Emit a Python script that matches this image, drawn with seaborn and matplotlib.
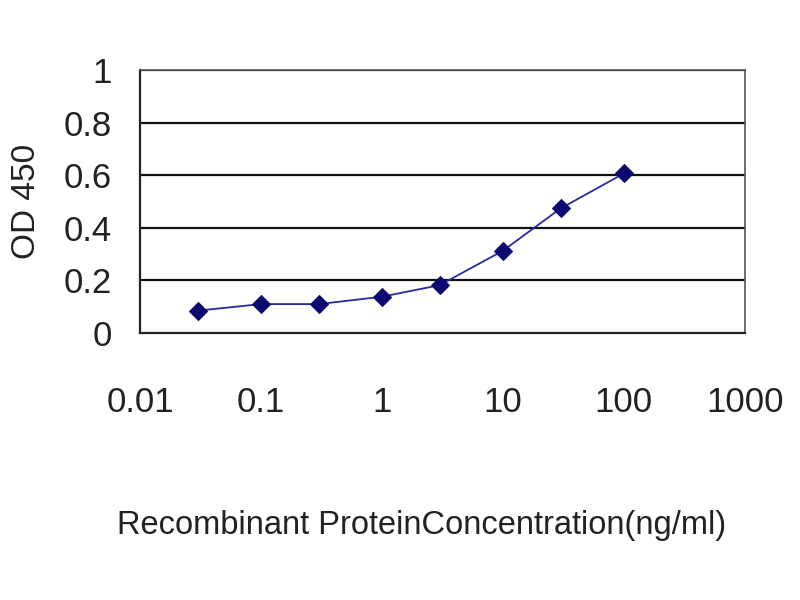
import pandas as pd
import matplotlib.pyplot as plt
import seaborn as sns

# ELISA standard curve values
concentration = [0.03, 0.1, 0.3, 1, 3, 10, 30, 100]
od450 = [0.085, 0.11, 0.11, 0.138, 0.182, 0.313, 0.474, 0.607]
x_ticks = [0.01, 0.1, 1, 10, 100, 1000]
x_tick_labels = ['0.01', '0.1', '1', '10', '100', '1000']
y_ticks = [0, 0.2, 0.4, 0.6, 0.8, 1]
y_tick_labels = ['0', '0.2', '0.4', '0.6', '0.8', '1']

df = pd.DataFrame({'Concentration': concentration, 'OD': od450})

sns.set_style("white")
plt.rcParams['font.family'] = ['Liberation Sans', 'DejaVu Sans']

fig = plt.figure(figsize=(8, 6), dpi=100)
ax = fig.add_axes([0.175, 0.445, 0.756, 0.438])

# horizontal gridlines
for y in y_ticks[1:]:
    ax.axhline(y, color='#111111', linewidth=1.6, zorder=1)

sns.lineplot(data=df, x='Concentration', y='OD', ax=ax,
             color='#2a2aa0', linewidth=1.3, marker='D', markersize=9,
             markerfacecolor='#0a0a70', markeredgecolor='#0a0a70', zorder=3)

ax.set_xscale('log')
ax.set_xlim(0.01, 1000)
ax.set_ylim(0, 1)
ax.set_xticks(x_ticks)
ax.set_xticklabels(x_tick_labels)
ax.minorticks_off()
ax.set_yticks(y_ticks)
ax.set_yticklabels(y_tick_labels)

ax.tick_params(axis='x', direction='in', length=9, width=1.2, pad=38,
               labelsize=25, colors='black', labelcolor='#222222')
ax.tick_params(axis='y', direction='out', length=0, pad=20,
               labelsize=25, labelcolor='#222222')

for side in ['left', 'bottom']:
    ax.spines[side].set_color('#222222')
    ax.spines[side].set_linewidth(1.6)
for side in ['top', 'right']:
    ax.spines[side].set_color('#555555')
    ax.spines[side].set_linewidth(1.2)

ax.set_xlabel('Recombinant ProteinConcentration(ng/ml)', fontsize=23.5,
              color='#222222')
ax.xaxis.set_label_coords(0.466, -0.675)
ax.set_ylabel('OD 450', fontsize=24, color='#222222', labelpad=16)

plt.savefig('out.png', dpi=100)
